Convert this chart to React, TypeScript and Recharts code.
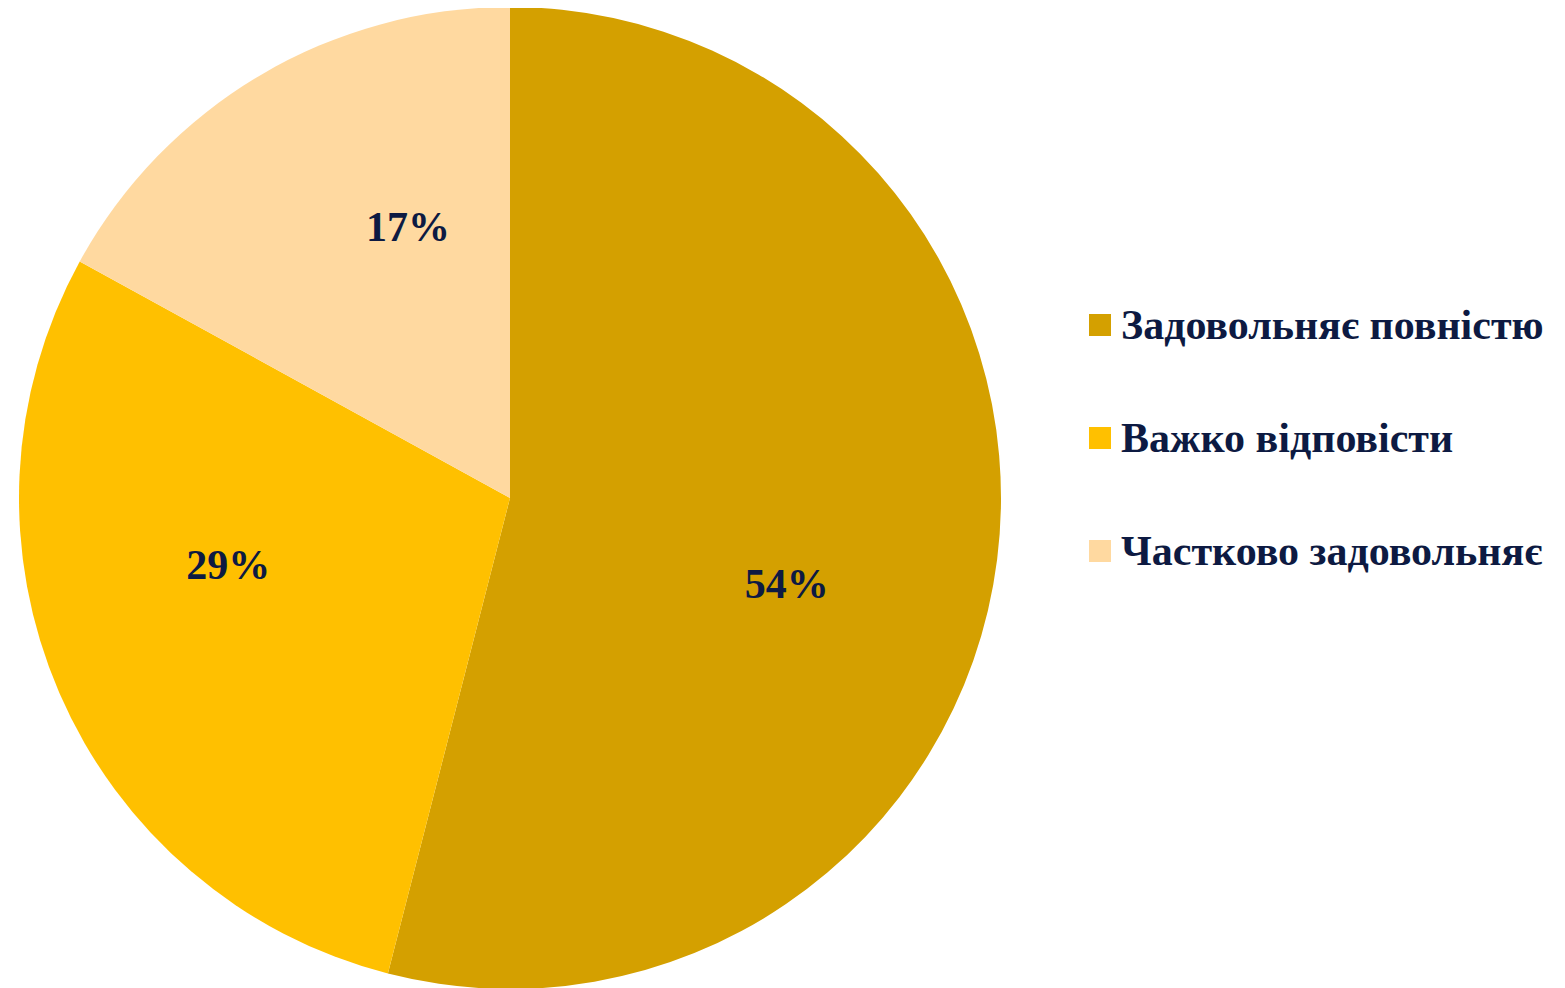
import React from "react";
import { PieChart, Pie, Cell, Legend } from "recharts";

const categories = ["Задовольняє повністю", "Важко відповісти", "Частково задовольняє"];
const values = [54, 29, 17];
const colors = ["#D4A000", "#FFC000", "#FFD9A0"];

const data = categories.map((name, i) => ({ name, value: values[i] }));

const TEXT = "#0D1A42";
const FONT = "'Liberation Serif', 'Times New Roman', serif";

const RADIAN = Math.PI / 180;

const renderLabel = (props: any) => {
  const { cx, cy, midAngle, outerRadius, value } = props;
  const r = outerRadius * 0.59;
  const a = midAngle - 10;
  const x = cx + r * Math.cos(-a * RADIAN);
  const y = cy + r * Math.sin(-a * RADIAN);
  return (
    <text
      x={x}
      y={y}
      fill={TEXT}
      textAnchor="middle"
      dominantBaseline="central"
      fontFamily={FONT}
      fontWeight="bold"
      fontSize={42}
    >
      {`${value}%`}
    </text>
  );
};

const renderLegend = () => {
  return (
    <div style={{ display: "flex", flexDirection: "column" }}>
      {categories.map((name, i) => (
        <div key={name} style={{ display: "flex", alignItems: "center", height: 113 }}>
          <div
            style={{
              width: 22,
              height: 22,
              background: colors[i],
              marginRight: 10,
              flexShrink: 0,
            }}
          />
          <span
            style={{
              fontFamily: FONT,
              fontWeight: "bold",
              fontSize: 42,
              color: TEXT,
              whiteSpace: "nowrap",
              lineHeight: 1,
            }}
          >
            {name}
          </span>
        </div>
      ))}
    </div>
  );
};

export default function App() {
  return (
    <PieChart width={1549} height={980} margin={{ top: 0, right: 0, bottom: 0, left: 0 }}>
      <Pie
        data={data}
        dataKey="value"
        nameKey="name"
        cx={502}
        cy={490}
        outerRadius={491}
        startAngle={90}
        endAngle={-270}
        stroke="none"
        label={renderLabel}
        labelLine={false}
        isAnimationActive={false}
      >
        {data.map((d, i) => (
          <Cell key={d.name} fill={colors[i]} />
        ))}
      </Pie>
      <Legend
        layout="vertical"
        content={renderLegend}
        wrapperStyle={{ left: 1081, top: 260, width: 470 }}
      />
    </PieChart>
  );
}
